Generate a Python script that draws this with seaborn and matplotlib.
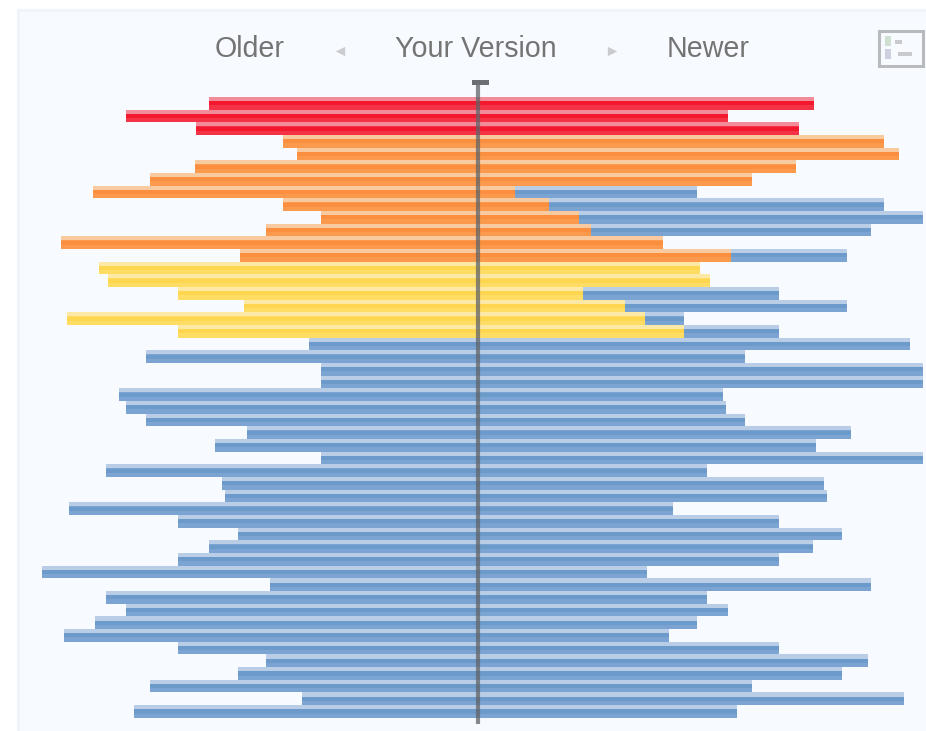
import numpy as np
import pandas as pd
import matplotlib
matplotlib.use("Agg")
import matplotlib.pyplot as plt
from matplotlib.patches import Rectangle
import seaborn as sns

sns.set_theme(style="white")
plt.rcParams['font.family'] = ['Liberation Sans', 'DejaVu Sans']

older = [270,353,283,196,182,284,329,386,196,158,213,418,239,380,371,301,235,412,301,170,
         333,158,158,360,353,333,232,264,158,373,257,254,410,301,241,270,301,437,209,373,
         353,384,415,301,213,241,329,177,345]
newer = [335,249,320,405,420,317,273,218,405,444,392,184,368,221,231,300,368,205,300,431,
         266,444,444,244,247,266,372,337,444,228,345,348,194,300,363,334,300,168,392,228,
         249,218,190,300,389,363,273,425,258]
warm_newer = [335,249,320,405,420,317,273,36,70,100,112,184,252,221,231,104,146,166.5,205] + [0]*30
tiers = ['critical']*3 + ['high']*10 + ['medium']*6 + ['current']*30
header_labels = ['Older', 'Your Version', 'Newer']

shades = {
    'top':    {'critical': '#f28c9b', 'high': '#f9c9a0', 'medium': '#fce9a6', 'current': '#b9cee6'},
    'lower':  {'critical': '#f53347', 'high': '#fb9a4c', 'medium': '#ffdc64', 'current': '#7ba4d2'},
    'middle': {'critical': '#f4182f', 'high': '#fb8f3f', 'medium': '#ffd64f', 'current': '#6b9acb'},
}
# (shade, centre offset within a row, band height within a row)
layers = [('top', 0.0, 1.0), ('lower', 0.16, 0.68), ('middle', 0.0, 0.32)]

df = pd.DataFrame({'row': np.arange(len(older)), 'older': -np.array(older, float),
                   'newer': np.array(newer, float), 'warm': np.array(warm_newer, float),
                   'tier': tiers})

fig = plt.figure(figsize=(9.26, 7.31), dpi=100, facecolor='white')
ax = fig.add_axes([0, 0, 1, 1])
ax.add_patch(Rectangle((-461.5, -7.45), 1000, 60, fc='#f0f4fb', ec='none', zorder=0))
ax.add_patch(Rectangle((-458.5, -7.21), 1000, 60, fc='#f7fafe', ec='none', zorder=0))

for shade, off, h in layers:
    pal = shades[shade]
    d = df.assign(pos=df['row'] + off)
    common = dict(data=d, y='pos', orient='h', native_scale=True, width=h, saturation=1,
                  linewidth=0, legend=False, ax=ax, dodge=False, zorder=2)
    sns.barplot(x='older', hue='tier', palette=pal, **common)
    sns.barplot(x='newer', color=pal['current'], **{k: v for k, v in common.items() if k != 'legend'})
    sns.barplot(x='warm', hue='tier', palette=pal, **common)

ax.set_xlim(-478.5, 447.5)
ax.set_ylim(49.54, -8.156)
ax.axis('off')

# centre line with cap
ax.plot([-0.5, -0.5], [-1.87, 49.0], color='#5f6368', lw=3.0, alpha=0.75, solid_capstyle='butt', zorder=4)
ax.add_patch(Rectangle((-7, -1.85), 17, 0.4, fc='#6b6e72', ec='none', zorder=5))

# header
ypos = -4.25
for label, x in zip(header_labels, [-228.5, -2.5, 230]):
    ax.text(x, ypos, label, ha='center', va='center', fontsize=20.6, color='#747474', zorder=6)
ax.scatter([-139], [ypos + 0.1], marker='<', s=45, color='#c9cbce', linewidths=0, zorder=6)
ax.scatter([133], [ypos + 0.1], marker='>', s=45, color='#c9cbce', linewidths=0, zorder=6)

# legend icon
ax.add_patch(Rectangle((400.5, -5.68), 44, 2.7, fc='#f7fafe', ec='#b8babe', lw=2.2, zorder=6))
ax.add_patch(Rectangle((406, -5.28), 6, 0.75, fc='#cfe0d2', ec='none', zorder=7))
ax.add_patch(Rectangle((406, -4.28), 6, 0.75, fc='#cfcfe2', ec='none', zorder=7))
ax.add_patch(Rectangle((416, -4.98), 7, 0.3, fc='#c8cace', ec='none', zorder=7))
ax.add_patch(Rectangle((419, -4.03), 14, 0.3, fc='#c8cace', ec='none', zorder=7))

fig.savefig('out.png', dpi=100, facecolor='white')
